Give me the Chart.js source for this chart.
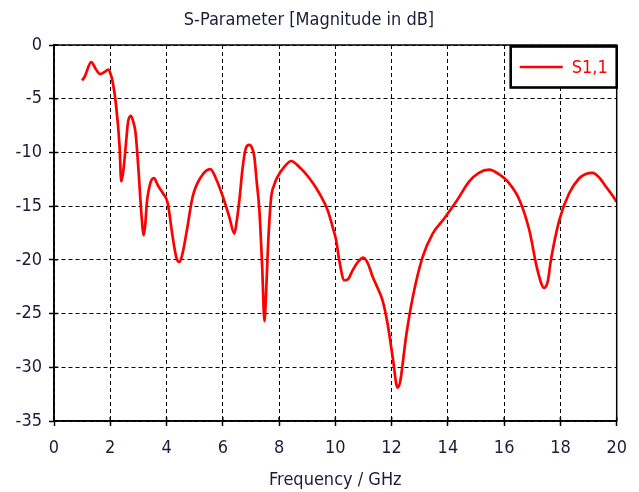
<!DOCTYPE html>
<html>
<head>
<meta charset="utf-8">
<script src="https://cdn.jsdelivr.net/npm/chart.js@4/dist/chart.umd.min.js"></script>
<style>
  html, body { margin: 0; padding: 0; background: #fff; }
  #wrap { width: 639px; height: 492px; }
</style>
</head>
<body>
<div id="wrap"><canvas id="c" width="639" height="492"></canvas></div>
<script>
const chartTitle = "S-Parameter [Magnitude in dB]";
const xAxisTitle = "Frequency / GHz";
const seriesName = "S1,1";

const freqGHz = [
  1.00, 1.10, 1.32, 1.50, 1.64, 1.80, 1.92, 2.00, 2.09, 2.21, 2.33, 2.39, 2.46, 2.54, 2.63, 2.73,
  2.80, 2.90, 3.01, 3.10, 3.19, 3.25, 3.30, 3.42, 3.55, 3.70, 3.87, 4.04, 4.22, 4.35, 4.45, 4.55,
  4.70, 4.93, 5.23, 5.56, 5.75, 6.00, 6.23, 6.41, 6.50, 6.59, 6.71, 6.82, 6.94, 7.04, 7.12, 7.20,
  7.30, 7.40, 7.48, 7.54, 7.60, 7.71, 7.83, 7.95, 8.20, 8.43, 8.70, 9.08, 9.43, 9.73, 9.90, 10.03,
  10.14, 10.32, 10.45, 10.61, 10.80, 10.99, 11.15, 11.33, 11.50, 11.68, 11.86, 12.04, 12.21, 12.30,
  12.51, 12.75, 13.10, 13.46, 13.87, 14.29, 14.76, 15.10, 15.47, 15.80, 16.12, 16.54, 16.89, 17.19,
  17.42, 17.55, 17.66, 17.96, 18.31, 18.67, 18.90, 19.14, 19.40, 19.62, 19.85, 20.00
];
const s11dB = [
  -3.3, -2.9, -1.6, -2.3, -2.7, -2.5, -2.3, -2.6, -3.5, -5.7, -9.4, -12.7, -11.8, -9.7, -7.2, -6.6,
  -7.0, -8.2, -11.9, -15.5, -17.7, -16.5, -14.7, -12.9, -12.4, -13.1, -13.8, -14.7, -17.9, -19.8, -20.2, -19.6,
  -17.6, -14.1, -12.25, -11.55, -12.4, -14.1, -16.0, -17.55, -16.3, -14.4, -11.3, -9.6, -9.3, -9.6, -10.4, -12.6,
  -15.4, -20.7, -25.7, -23.0, -19.1, -14.4, -13.0, -12.25, -11.3, -10.8, -11.3, -12.4, -13.8, -15.4, -16.9, -18.2,
  -20.05, -21.9, -21.8, -21.0, -20.2, -19.8, -20.3, -21.6, -22.6, -23.8, -26.0, -29.1, -31.9, -31.4,
  -27.2, -23.5, -19.75, -17.55, -16.15, -14.6, -12.7, -11.9, -11.6, -12.0, -12.7, -14.4, -17.2, -21.0,
  -22.6, -22.0, -20.05, -16.3, -13.8, -12.4, -12.0, -11.9, -12.4, -13.2, -14.0, -14.6
];
const xTicks = [0, 2, 4, 6, 8, 10, 12, 14, 16, 18, 20];
const yTicks = [0, -5, -10, -15, -20, -25, -30, -35];

const FONT = "'DejaVu Sans Condensed', 'DejaVu Sans', sans-serif";
const TEXT = '#1c1c3a';

const frameAndLegend = {
  id: 'frameAndLegend',
  afterDatasetsDraw(chart) {
    const {ctx, chartArea: a} = chart;
    ctx.save();
    ctx.strokeStyle = '#000';
    ctx.lineWidth = 1.5;
    ctx.setLineDash([]);
    ctx.strokeRect(a.left, a.top, a.right - a.left, a.bottom - a.top);
    // inner tick marks
    const xs = chart.scales.x, ys = chart.scales.y;
    ctx.beginPath();
    xs.ticks.forEach(t => {
      const px = xs.getPixelForValue(t.value);
      ctx.moveTo(px, a.bottom);
      ctx.lineTo(px, a.bottom - 4);
    });
    ys.ticks.forEach(t => {
      const py = ys.getPixelForValue(t.value);
      ctx.moveTo(a.left, py);
      ctx.lineTo(a.left + 4, py);
    });
    ctx.stroke();
    // legend box
    const ds = chart.data.datasets[0];
    const w = 106, h = 41;
    const bx = a.right - w, by = a.top + 1.5;
    ctx.fillStyle = '#fff';
    ctx.fillRect(bx, by, w, h);
    ctx.lineWidth = 2.6;
    ctx.strokeRect(bx, by, w, h);
    const cy = by + h / 2;
    ctx.strokeStyle = ds.borderColor;
    ctx.lineWidth = 2.5;
    ctx.beginPath();
    ctx.moveTo(bx + 9, cy);
    ctx.lineTo(bx + 52, cy);
    ctx.stroke();
    ctx.fillStyle = ds.borderColor;
    ctx.font = '18px ' + FONT;
    ctx.textBaseline = 'middle';
    ctx.textAlign = 'left';
    ctx.fillText(ds.label, bx + 61, cy + 1);
    ctx.restore();
  }
};

new Chart(document.getElementById('c'), {
  type: 'line',
  data: {
    datasets: [{
      label: seriesName,
      data: freqGHz.map((f, i) => ({x: f, y: s11dB[i]})),
      borderColor: '#ff0000',
      borderWidth: 2.7,
      pointRadius: 0,
      fill: false,
      cubicInterpolationMode: 'monotone'
    }]
  },
  options: {
    responsive: false,
    animation: false,
    devicePixelRatio: 1,
    layout: { padding: { left: 0, right: 21, top: 0, bottom: 0 } },
    plugins: {
      legend: { display: false },
      tooltip: { enabled: false },
      title: {
        display: true,
        text: chartTitle,
        color: TEXT,
        font: { family: FONT, size: 18, weight: 'normal', lineHeight: 1.2 },
        padding: { top: 10, bottom: 13.4 }
      }
    },
    scales: {
      x: {
        type: 'linear',
        min: 0, max: 20,
        afterBuildTicks: s => { s.ticks = xTicks.map(v => ({value: v})); },
        afterFit: s => { s.height = 71; },
        ticks: { color: TEXT, font: { family: FONT, size: 18 }, padding: 12, maxRotation: 0, autoSkip: false },
        grid: {
          color: '#000', lineWidth: 1,
          tickLength: 5, tickColor: '#000', tickBorderDash: [], tickWidth: 1.5,
          drawOnChartArea: true
        },
        border: { display: true, color: '#000', width: 1.5, dash: [4, 3] },
        title: {
          display: true, text: xAxisTitle, color: TEXT,
          font: { family: FONT, size: 18, lineHeight: 1.2 },
          padding: { top: 0, bottom: 1 }
        }
      },
      y: {
        type: 'linear',
        min: -35, max: 0,
        afterBuildTicks: s => { s.ticks = yTicks.map(v => ({value: v})); },
        afterFit: s => { s.width = 54; },
        ticks: { color: TEXT, font: { family: FONT, size: 18 }, padding: 7, autoSkip: false },
        grid: {
          color: '#000', lineWidth: 1,
          tickLength: 5, tickColor: '#000', tickBorderDash: [], tickWidth: 1.5
        },
        border: { display: true, color: '#000', width: 1.5, dash: [4, 3] }
      }
    }
  },
  plugins: [frameAndLegend]
});
</script>
</body>
</html>
